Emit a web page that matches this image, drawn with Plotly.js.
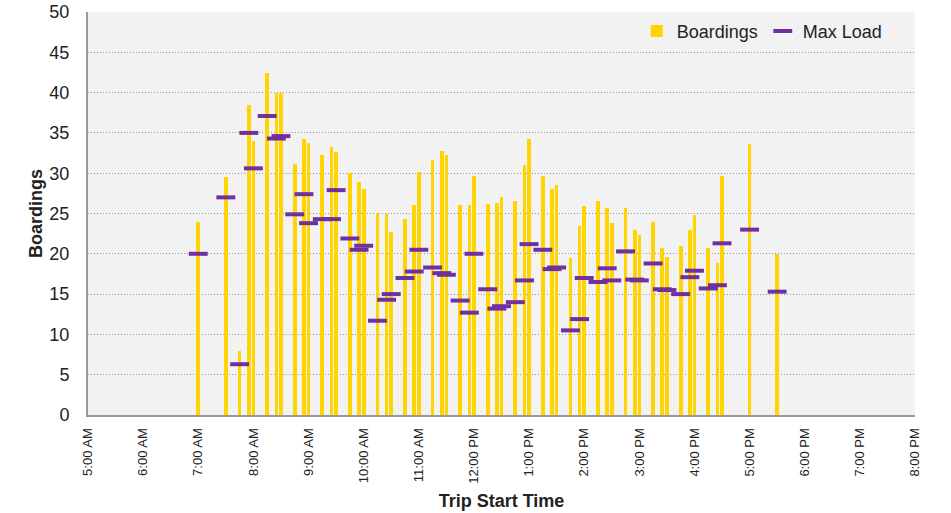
<!DOCTYPE html>
<html><head><meta charset="utf-8">
<script src="https://cdn.plot.ly/plotly-3.0.1.min.js"></script>
<style>html,body{margin:0;padding:0;background:#fff;}#chart{width:951px;height:513px;}</style>
</head><body><div id="chart"></div>
<script>
var tripTimes = ["07:00","07:30","07:45","07:55","08:00","08:15","08:25","08:30","08:45","08:55",
  "09:00","09:15","09:25","09:30","09:45","09:55","10:00","10:15","10:25","10:30",
  "10:45","10:55","11:00","11:15","11:25","11:30","11:45","11:55","12:00","12:15",
  "12:25","12:30","12:45","12:55","13:00","13:15","13:25","13:30","13:45","13:55",
  "14:00","14:15","14:25","14:30","14:45","14:55","15:00","15:15","15:25","15:30",
  "15:45","15:55","16:00","16:15","16:25","16:30","17:00","17:30"];
var boardings = [24,29.5,8,38.5,34,42.4,40,40,31.1,34.2,
  33.7,32.2,33.2,32.6,30,28.9,28,25.1,24.9,22.7,
  24.3,26,30.2,31.6,32.7,32.2,26,26,29.7,26.2,
  26.3,27,26.6,31,34.2,29.6,28,28.5,19.5,23.5,
  25.9,26.5,25.7,23.8,25.7,23,22.3,24,20.7,19.6,
  21,22.9,24.8,20.7,18.9,29.6,33.6,20];
var maxLoad = [20,27,6.3,35,30.6,37.1,34.3,34.6,24.9,27.4,
  23.8,24.3,24.3,27.9,21.9,20.5,21,11.7,14.3,15,
  17,17.8,20.5,18.3,17.6,17.4,14.2,12.7,20,15.6,
  13.2,13.5,14,16.7,21.2,20.5,18.1,18.3,10.5,11.9,
  17,16.5,18.2,16.7,20.3,16.8,16.7,18.8,15.6,15.5,
  15,17.1,17.9,15.7,16.1,21.3,23,15.3];
var tickHours = ["05:00","06:00","07:00","08:00","09:00","10:00","11:00","12:00","13:00","14:00","15:00","16:00","17:00","18:00","19:00","20:00"];

var day = "2020-01-01 ";
var xs = tripTimes.map(function(t){return day+t;});
var FONT = '"Liberation Sans Narrow", "Arial Narrow", "Liberation Sans", Arial, sans-serif';

var traces = [
  {type:'bar', name:'Boardings', x:xs, y:boardings, width:240000,
   marker:{color:'#FFD400', line:{width:0}}},
  {type:'scatter', mode:'markers', name:'Max Load', x:xs, y:maxLoad,
   marker:{symbol:'line-ew', size:13.5, color:'#7030A0', line:{color:'#7030A0', width:4}}}
];

var layout = {
  width:951, height:513,
  margin:{l:88, r:36, t:12, b:98},
  paper_bgcolor:'#ffffff', plot_bgcolor:'#F2F2F2',
  font:{family:FONT, size:18, color:'#222'},
  showlegend:true,
  legend:{orientation:'h', x:0.967, xanchor:'right', y:0.998, yanchor:'top',
    bgcolor:'rgba(0,0,0,0)', font:{family:FONT, size:18, color:'#222'}, itemwidth:30, traceorder:'normal'},
  bargap:0,
  xaxis:{type:'date', range:[day+"05:00", day+"20:00"], tickvals:tickHours.map(function(t){return day+t;}),
    tickformat:'%-I:%M %p', tickangle:-90, showgrid:false, zeroline:false,
    showline:true, linecolor:'#999999', linewidth:2, ticks:'', ticklabelstandoff:6,
    tickfont:{family:FONT, size:13, color:'#222'},
    title:{text:'Trip Start Time', font:{family:FONT, size:18, color:'#222', weight:'bold'}, standoff:12}},
  yaxis:{range:[0,50], tickvals:[0,5,10,15,20,25,30,35,40,45,50], showgrid:true, gridcolor:'#9A9A9A',
    griddash:'1px,2px', gridwidth:1, zeroline:false, showline:true, linecolor:'#999999', linewidth:2,
    ticks:'', ticklabelstandoff:13, tickfont:{family:FONT, size:18, color:'#222'},
    title:{text:'Boardings', font:{family:FONT, size:18, color:'#222', weight:'bold'}, standoff:2}}
};
Plotly.newPlot('chart', traces, layout, {displayModeBar:false, staticPlot:true});
</script></body></html>
